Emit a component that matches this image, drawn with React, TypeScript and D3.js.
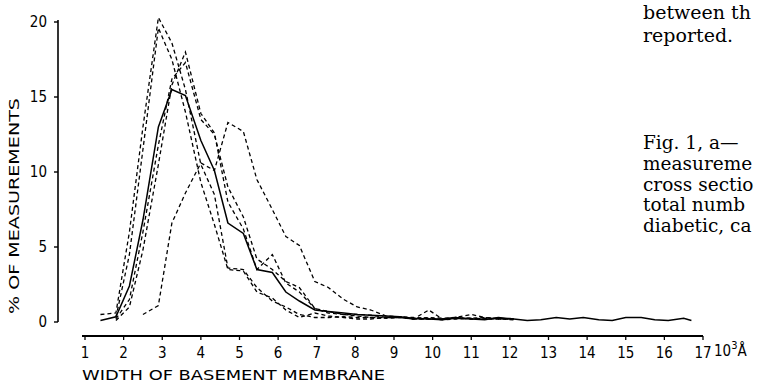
import React from 'react';
import * as d3 from 'd3';

// basement membrane width (10^3 Å) at which the curves were sampled
const widths = [1.4, 1.8, 2.15, 2.5, 2.9, 3.25, 3.6, 4.0, 4.35, 4.7, 5.1, 5.45, 5.85, 6.2, 6.55, 6.95, 7.3, 7.7, 8.05, 8.4, 8.8, 9.15, 9.5, 9.9, 10.25, 10.6, 11.0, 11.35, 11.7, 12.1, 12.45, 12.8, 13.2, 13.55, 13.9, 14.3, 14.65, 15.0, 15.4, 15.75, 16.1, 16.5, 16.7];

// % of measurements, one array per case (null = not drawn)
const caseA = [0.5, 0.6, 6.0, 13.0, 20.3, 18.6, 15.5, 10.5, 8.5, 3.6, 3.5, 2.3, 1.4, 1.0, 0.5, 0.3, 0.3, 0.35, 0.3, 0.3, 0.25, 0.3, 0.2, 0.2, 0.15, 0.2, 0.25, 0.2, 0.2, 0.15];
const caseB = [null, 0.3, 4.5, 11.5, 19.6, 17.5, 14.0, 9.3, 6.5, 3.5, 3.4, 2.0, 1.6, 0.8, 0.3, 0.6, 0.4, 0.3, 0.2, 0.2, 0.3, 0.35, 0.2, 0.8, 0.2, 0.3, 0.2, 0.25, 0.2, 0.2];
const caseC = [null, 0.1, 1.0, 4.8, 10.5, 15.8, 18.0, 13.9, 12.6, 8.0, 6.2, 3.5, 4.5, 2.6, 2.0, 0.9, 0.6, 0.5, 0.5, 0.45, 0.3, 0.3, 0.2, 0.3, 0.25, 0.3, 0.5, 0.3, 0.2, 0.25];
const caseD = [null, 0.2, 1.5, 6.0, 11.8, 16.2, 17.3, 13.5, 12.5, 9.0, 7.0, 4.2, 3.5, 2.7, 2.3, 0.9, 0.7, 0.5, 0.4, 0.3, 0.3, 0.3, 0.2, 0.2, 0.2, 0.3, 0.2, 0.2, 0.25, 0.2];
const caseF = [null, null, null, 0.5, 1.1, 6.6, 8.6, 10.6, 10.1, 13.3, 12.7, 9.5, 7.5, 5.7, 5.1, 2.7, 2.3, 1.5, 1.0, 0.8, 0.4, 0.35, 0.3, 0.25, 0.2, 0.3, 0.25, 0.3, 0.25, 0.2];
const caseMean = [0.1, 0.35, 2.4, 6.8, 13.0, 15.5, 15.1, 12.1, 10.1, 6.6, 5.9, 3.5, 3.3, 2.0, 1.4, 0.8, 0.7, 0.6, 0.5, 0.45, 0.4, 0.35, 0.25, 0.2, 0.15, 0.25, 0.2, 0.15, 0.3, 0.2, 0.1, 0.15, 0.3, 0.2, 0.3, 0.15, 0.1, 0.3, 0.3, 0.15, 0.1, 0.25, 0.1];

const xTicks = [1, 2, 3, 4, 5, 6, 7, 8, 9, 10, 11, 12, 13, 14, 15, 16, 17];
const yTicks = [0, 5, 10, 15, 20];

const textLines1 = ['between th', 'reported.'];
const textLines2 = ['Fig. 1, a\u2014', 'measureme', 'cross sectio', 'total numb', 'diabetic, ca'];

const sans = "'DejaVu Sans Condensed', 'Liberation Sans Narrow', 'DejaVu Sans', sans-serif";
const serif = "'DejaVu Serif', 'Liberation Serif', serif";

export default function App() {
  const x = d3.scaleLinear().domain([1, 17]).range([85, 703]);
  const y = d3.scaleLinear().domain([0, 20]).range([322, 22]);

  const line = d3.line<number | null>()
    .defined(d => d != null)
    .x((d, i) => x(widths[i]))
    .y(d => y(d as number));

  const dashed = [caseA, caseB, caseC, caseD, caseF];

  return (
    <svg width={762} height={382} style={{ position: 'absolute', left: 0, top: 0, background: '#fff' }}>
      {/* y axis */}
      <line x1={58} x2={58} y1={y(20) - 2} y2={y(0)} stroke="#000" strokeWidth={1.6} />
      {yTicks.map(t => (
        <g key={t}>
          <line x1={54} x2={58} y1={y(t)} y2={y(t)} stroke="#000" strokeWidth={1.4} />
          <text x={47} y={y(t)} dy="0.36em" textAnchor="end" fontFamily={sans} fontSize={15}>{t}</text>
        </g>
      ))}
      <text transform={`translate(19,${206}) rotate(-90)`} textAnchor="middle" fontFamily={sans} fontSize={14}
        textLength={216} lengthAdjust="spacingAndGlyphs">% OF MEASUREMENTS</text>

      {/* x axis */}
      <line x1={x(1) - 3} x2={x(17)} y1={336} y2={336} stroke="#000" strokeWidth={1.8} />
      {xTicks.map(t => (
        <g key={t}>
          <line x1={x(t)} x2={x(t)} y1={336} y2={340} stroke="#000" strokeWidth={1.3} />
          <text x={x(t)} y={358} textAnchor="middle" fontFamily={sans} fontSize={15}>{t}</text>
        </g>
      ))}
      <text x={714} y={356} fontFamily={sans} fontSize={15}>10<tspan dy={-7} fontSize={11}>3</tspan><tspan dy={7}>Å</tspan></text>
      <text x={82} y={380} fontFamily={sans} fontSize={14} textLength={303} lengthAdjust="spacingAndGlyphs">WIDTH OF BASEMENT MEMBRANE</text>

      {/* curves */}
      {dashed.map((s, i) => (
        <path key={i} d={line(s) || ''} fill="none" stroke="#000" strokeWidth={1.3} strokeDasharray="4 3" />
      ))}
      <path d={line(caseMean) || ''} fill="none" stroke="#000" strokeWidth={1.5} />

      {/* running text beside the figure */}
      {textLines1.map((t, i) => (
        <text key={t} x={643} y={19 + i * 22.5} fontFamily={serif} fontSize={19}>{t}</text>
      ))}
      {textLines2.map((t, i) => (
        <text key={t} x={643} y={149 + i * 20.8} fontFamily={serif} fontSize={18.5}>{t}</text>
      ))}
    </svg>
  );
}
